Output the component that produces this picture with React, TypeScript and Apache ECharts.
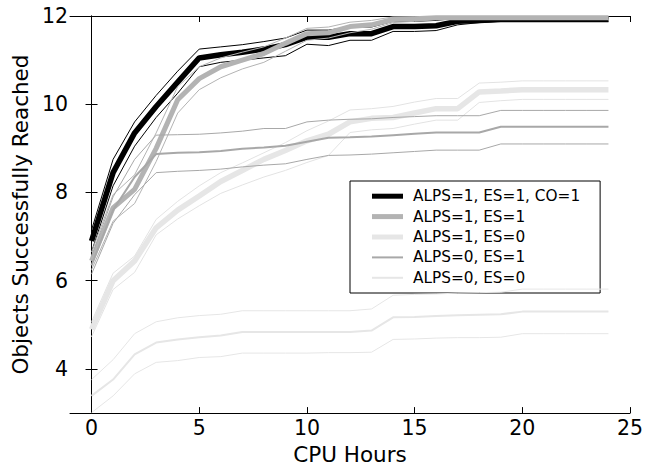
import React, { useEffect, useRef } from "react";
import * as echarts from "echarts";

const hours = [0, 1, 2, 3, 4, 5, 6, 7, 8, 9, 10, 11, 12, 13, 14, 15, 16, 17, 18, 19, 20, 21, 22, 23, 24];
const xTicks = [0, 5, 10, 15, 20, 25];
const yTicks = [4, 6, 8, 10, 12];

const names = ["ALPS=1, ES=1, CO=1", "ALPS=1, ES=1", "ALPS=1, ES=0", "ALPS=0, ES=1", "ALPS=0, ES=0"];

// ALPS=1, ES=1, CO=1
const coMean = [6.9, 8.45, 9.35, 9.95, 10.5, 11.05, 11.12, 11.18, 11.25, 11.35, 11.52, 11.52, 11.6, 11.6, 11.76, 11.76, 11.78, 11.88, 11.9, 11.92, 11.92, 11.92, 11.92, 11.92, 11.92];
const coUpper = [7.15, 8.75, 9.6, 10.2, 10.75, 11.25, 11.3, 11.35, 11.42, 11.5, 11.68, 11.68, 11.75, 11.75, 11.88, 11.88, 11.9, 11.95, 11.96, 11.96, 11.96, 11.96, 11.96, 11.96, 11.96];
const coLower = [6.65, 8.15, 9.05, 9.7, 10.25, 10.85, 10.95, 11.0, 11.05, 11.1, 11.36, 11.33, 11.45, 11.45, 11.65, 11.65, 11.67, 11.8, 11.85, 11.88, 11.88, 11.88, 11.88, 11.88, 11.88];

// ALPS=1, ES=1
const a1e1Mean = [6.45, 7.65, 8.07, 9.0, 10.1, 10.58, 10.85, 11.0, 11.15, 11.38, 11.6, 11.62, 11.76, 11.8, 11.92, 11.94, 11.96, 11.96, 11.96, 11.96, 11.96, 11.96, 11.96, 11.96, 11.96];
const a1e1Upper = [6.65, 7.95, 8.4, 9.35, 10.4, 10.85, 11.05, 11.18, 11.3, 11.5, 11.72, 11.75, 11.86, 11.9, 11.98, 11.98, 11.98, 11.98, 11.98, 11.98, 11.98, 11.98, 11.98, 11.98, 11.98];
const a1e1Lower = [6.25, 7.35, 7.75, 8.7, 9.8, 10.33, 10.6, 10.8, 10.95, 11.2, 11.45, 11.5, 11.62, 11.7, 11.85, 11.88, 11.92, 11.92, 11.92, 11.92, 11.92, 11.92, 11.92, 11.92, 11.92];

// ALPS=1, ES=0
const a1e0Mean = [4.9, 6.0, 6.45, 7.2, 7.6, 7.92, 8.25, 8.5, 8.75, 8.95, 9.17, 9.32, 9.6, 9.68, 9.7, 9.8, 9.9, 9.9, 10.28, 10.3, 10.33, 10.33, 10.33, 10.33, 10.33];
const a1e0Upper = [5.07, 6.17, 6.56, 7.39, 7.8, 8.15, 8.45, 8.67, 8.9, 9.13, 9.4, 9.62, 9.87, 9.9, 9.95, 10.05, 10.13, 10.13, 10.48, 10.5, 10.53, 10.53, 10.53, 10.53, 10.53];
const a1e0Lower = [4.73, 5.8, 6.19, 7.04, 7.4, 7.7, 7.98, 8.17, 8.35, 8.5, 8.68, 8.84, 9.36, 9.42, 9.45, 9.55, 9.64, 9.64, 10.04, 10.08, 10.11, 10.11, 10.11, 10.11, 10.11];

// ALPS=0, ES=1
const a0e1Mean = [6.35, 7.6, 8.35, 8.87, 8.9, 8.91, 8.94, 8.99, 9.02, 9.06, 9.15, 9.24, 9.25, 9.27, 9.3, 9.33, 9.36, 9.36, 9.36, 9.49, 9.49, 9.49, 9.49, 9.49, 9.49];
const a0e1Upper = [6.55, 7.9, 8.75, 9.3, 9.31, 9.32, 9.35, 9.39, 9.45, 9.45, 9.6, 9.64, 9.66, 9.67, 9.7, 9.72, 9.74, 9.74, 9.74, 9.86, 9.86, 9.86, 9.86, 9.86, 9.86];
const a0e1Lower = [6.15, 7.3, 7.95, 8.45, 8.48, 8.5, 8.53, 8.58, 8.62, 8.65, 8.75, 8.84, 8.85, 8.87, 8.9, 8.93, 8.96, 8.96, 8.96, 9.1, 9.1, 9.1, 9.1, 9.1, 9.1];

// ALPS=0, ES=0
const a0e0Mean = [3.39, 3.76, 4.33, 4.6, 4.67, 4.72, 4.76, 4.84, 4.84, 4.84, 4.84, 4.84, 4.84, 4.87, 5.17, 5.18, 5.2, 5.22, 5.23, 5.24, 5.3, 5.3, 5.3, 5.3, 5.3];
const a0e0Upper = [3.76, 4.21, 4.8, 5.07, 5.16, 5.21, 5.24, 5.32, 5.32, 5.32, 5.32, 5.32, 5.32, 5.36, 5.67, 5.69, 5.7, 5.72, 5.73, 5.74, 5.81, 5.81, 5.81, 5.81, 5.81];
const a0e0Lower = [3.01, 3.39, 3.89, 4.15, 4.19, 4.26, 4.28, 4.36, 4.36, 4.36, 4.36, 4.37, 4.37, 4.38, 4.67, 4.68, 4.7, 4.71, 4.71, 4.72, 4.8, 4.8, 4.8, 4.8, 4.8];

const groups = [
  { name: names[0], mean: coMean, upper: coUpper, lower: coLower, color: "#000000", width: 5.5, icon: 5, bound: "#000000" },
  { name: names[1], mean: a1e1Mean, upper: a1e1Upper, lower: a1e1Lower, color: "#b3b3b3", width: 5, icon: 5, bound: "#b3b3b3" },
  { name: names[2], mean: a1e0Mean, upper: a1e0Upper, lower: a1e0Lower, color: "#e6e6e6", width: 5.5, icon: 5, bound: "#e3e3e3" },
  { name: names[3], mean: a0e1Mean, upper: a0e1Upper, lower: a0e1Lower, color: "#a8a8a8", width: 2, icon: 2, bound: "#a8a8a8" },
  { name: names[4], mean: a0e0Mean, upper: a0e0Upper, lower: a0e0Lower, color: "#e6e6e6", width: 2, icon: 2, bound: "#e6e6e6" },
];

const FONT = "DejaVu Sans";

export default function App() {
  const ref = useRef<HTMLDivElement>(null);
  useEffect(() => {
    if (!ref.current) return;
    const chart = echarts.init(ref.current, null, { renderer: "svg" });
    const pair = (arr: number[]) => hours.map((h, i) => [h, arr[i]]);
    const series: any[] = [];
    groups.forEach((g, gi) => {
      const z = 2 + gi;
      series.push({
        type: "line", name: g.name + " upper", data: pair(g.upper), symbol: "none",
        lineStyle: { color: g.bound, width: 1 }, itemStyle: { color: g.bound }, z, silent: true,
      });
      series.push({
        type: "line", name: g.name + " lower", data: pair(g.lower), symbol: "none",
        lineStyle: { color: g.bound, width: 1 }, itemStyle: { color: g.bound }, z, silent: true,
      });
      series.push({
        type: "line", name: g.name, data: pair(g.mean), symbol: "none",
        lineStyle: { color: g.color, width: g.width }, itemStyle: { color: g.color }, z,
      });
    });
    const axisLine = { show: true, lineStyle: { color: "#000", width: 1 } };
    chart.setOption({
      animation: false,
      grid: { left: 70, right: 19, top: 16, bottom: 48, containLabel: false },
      legend: {
        orient: "vertical",
        left: 350,
        top: 181,
        itemWidth: 31,
        itemHeight: 14,
        itemGap: 5.4,
        padding: [7.7, 20, 7.7, 22],
        borderColor: "#000",
        borderWidth: 1,
        borderRadius: 0,
        backgroundColor: "#fff",
        textStyle: { fontFamily: FONT, fontSize: 15.3, color: "#000", padding: [0, 0, 0, 5] },
        data: groups.map((g) => ({
          name: g.name,
          icon: `path://M0 0H31V${g.icon}H0Z`,
          itemStyle: { color: g.color },
        })),
      },
      xAxis: [
        {
          type: "value", min: -1, max: 25, position: "bottom",
          name: "CPU Hours", nameLocation: "middle", nameGap: 21,
          nameTextStyle: { fontFamily: FONT, fontSize: 21.5, color: "#000" },
          axisLine, splitLine: { show: false },
          axisTick: { show: true, inside: true, length: 6, customValues: xTicks, lineStyle: { color: "#000" } },
          axisLabel: { customValues: xTicks, fontFamily: FONT, fontSize: 20.5, color: "#000", margin: 4 },
        },
        {
          type: "value", min: -1, max: 25, position: "top",
          axisLine, splitLine: { show: false },
          axisTick: { show: true, inside: true, length: 6, customValues: xTicks, lineStyle: { color: "#000" } },
          axisLabel: { show: false },
        },
      ],
      yAxis: [
        {
          type: "value", min: 3, max: 12, position: "left",
          name: "Objects Successfully Reached", nameLocation: "middle", nameGap: 33,
          nameTextStyle: { fontFamily: FONT, fontSize: 21.5, color: "#000" },
          axisLine, splitLine: { show: false },
          axisTick: { show: true, inside: true, length: 6, customValues: yTicks, lineStyle: { color: "#000" } },
          axisLabel: { customValues: yTicks, fontFamily: FONT, fontSize: 20.5, color: "#000", margin: 2 },
        },
        {
          type: "value", min: 3, max: 12, position: "right",
          axisLine, splitLine: { show: false },
          axisTick: { show: true, inside: true, length: 6, customValues: yTicks, lineStyle: { color: "#000" } },
          axisLabel: { show: false },
        },
      ],
      series,
    });
    return () => chart.dispose();
  }, []);
  return <div ref={ref} style={{ position: "fixed", left: 0, top: 0, width: 649, height: 470, background: "#fff" }} />;
}
